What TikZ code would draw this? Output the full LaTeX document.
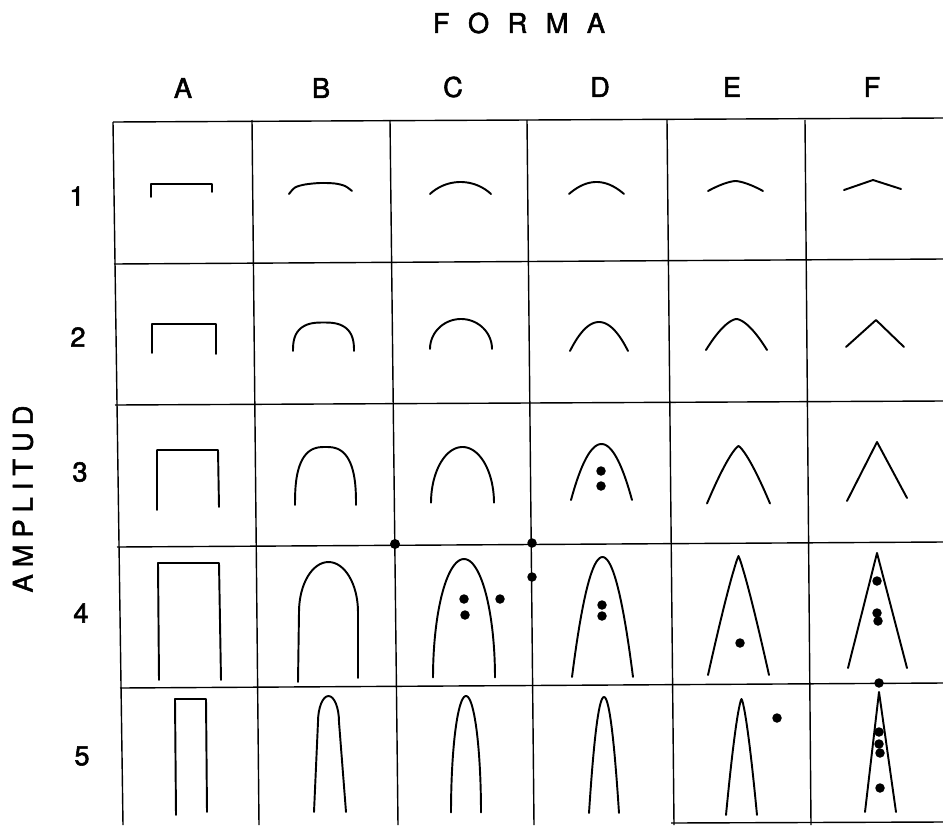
\documentclass[tikz,border=0pt]{standalone}
\usepackage{fontspec}
\setmainfont{TeX Gyre Heros}
\newfontfamily\lblfont{TeX Gyre Heros}[FakeBold=2]
% superellipse arch: centre x, bottom y, half width, height, exponent
\newcommand{\archSE}[5]{\draw[curve] plot[domain=0.3:179.7, samples=60, variable=\t]
  ({#1 + #3*sign(cos(\t))*(abs(cos(\t))+0.00001)^(2/#5)}, {#2 - #4*(sin(\t)+0.00001)^(2/#5)});}
% power arch: centre x, apex y, half width, depth, exponent
\newcommand{\archPW}[5]{\draw[curve] plot[domain=-1:1, samples=41, variable=\t]
  ({#1 + #3*\t}, {#2 + #4*(abs(\t)+0.00001)^#5});}
\begin{document}
\begin{tikzpicture}[x=0.02cm,y=-0.02cm,
  gridline/.style={line width=0.8pt},
  curve/.style={line width=1.1pt, line join=round, line cap=round},
  lbl/.style={font=\lblfont\fontsize{15.5}{18}\selectfont, inner sep=0pt},
  dot/.style={fill=black}]
\useasboundingbox (0,0) rectangle (943,825);
% ---------- labels ----------
\node[lbl] (forma) at (519,23) {F\hspace{10.5pt}O\hspace{10.5pt}R\hspace{10.5pt}M\hspace{10.5pt}A};
\node[lbl] (cA) at (183,88) {A};
\node[lbl] (cB) at (321,88) {B};
\node[lbl] (cC) at (453,87) {C};
\node[lbl] (cD) at (600,87) {D};
\node[lbl] (cE) at (732,87) {E};
\node[lbl] (cF) at (872,87) {F};
\node[lbl] (r1) at (77,196) {1};
\node[lbl] (r2) at (78,337) {2};
\node[lbl] (r3) at (80,472) {3};
\node[lbl] (r4) at (81,613) {4};
\node[lbl] (r5) at (82,756) {5};
\node[lbl, rotate=90] (ampl) at (23,499) {A\hspace{4pt}M\hspace{4pt}P\hspace{4pt}L\hspace{4pt}I\hspace{4pt}T\hspace{4pt}U\hspace{4pt}D};
% ---------- grid ----------
\draw[gridline] (113,122) -- (123,825);
\draw[gridline] (252,120) -- (259,825);
\draw[gridline] (390,120) -- (398,825);
\draw[gridline] (527,120) -- (534,825);
\draw[gridline] (667,120) -- (674,825);
\draw[gridline] (805,120) -- (811,825);
\draw[gridline] (113,122) -- (943,118);
\draw[gridline] (114,264) -- (943,259);
\draw[gridline] (115,405) -- (943,401);
\draw[gridline] (117,547) -- (943,542);
\draw[gridline] (120,688) -- (943,683);
\draw[gridline] (671,823) -- (943,822);
% ---------- column A (brackets) ----------
\draw[curve] (151,197) -- (151,184) -- (212,184) -- (212,192);
\draw[curve] (152,353) -- (152,324) -- (216,324) -- (216,354);
\draw[curve] (157,510) -- (157,450) -- (218,450) -- (219,507);
\draw[curve] (159,680) -- (158,563) -- (219,563) -- (221,680);
\draw[curve] (176,815) -- (175,699) -- (206,699) -- (207,812);
% ---------- column B (flat-topped arches) ----------
\draw[curve] plot[smooth] coordinates {(289,194) (295,187.5) (305,184.5) (320,183) (335,183.5) (345,186) (352,191)};
\archSE{323.5}{351.5}{30.5}{29}{2.7}
\archSE{325.5}{506}{30.5}{59}{2.7}
\draw[curve] (298,682) -- (299,612) arc[start angle=180, end angle=0, x radius=0.59cm, y radius=1.0cm] -- (358,678);
\draw[curve] (314,812) -- (318,722) arc[start angle=180, end angle=0, x radius=0.21cm, y radius=0.52cm] -- (346,812);
% ---------- column C (round arches) ----------
\draw[curve] plot[domain=47:133, samples=30, variable=\t] ({460.5+44.8*cos(\t)}, {226.8-44.8*sin(\t)});
\archSE{461}{349}{31}{30}{2}
\archSE{462.5}{503}{31.5}{56}{2}
\archSE{464}{678}{31}{119}{2}
\archSE{466}{813}{15}{117}{2}
% ---------- column D (parabolic arches) ----------
\archPW{596.5}{182}{27.5}{12}{2}
\archPW{599}{322}{29}{29}{2}
\archPW{601.5}{444}{30.5}{56}{2}
\archPW{602.5}{557}{30.5}{120}{2}
\archPW{604}{697}{15}{116}{2}
% ---------- column E (pointed arches) ----------
\archPW{735.5}{181}{27.5}{10}{1.5}
\archPW{736.5}{319}{30.5}{31}{1.6}
\archPW{738.5}{446}{31.5}{57.5}{1.3}
\archPW{738.5}{556}{30.5}{119}{1.15}
\archPW{741.5}{699}{15.5}{116}{1.4}
% ---------- column F (angles) ----------
\draw[curve] (844,190) -- (873,180) -- (901,189);
\draw[curve] (846,347) -- (876,320) -- (904,347);
\draw[curve] (847,501) -- (877,442) -- (907,498);
\draw[curve] (848,668) -- (877,553) -- (907,668);
\draw[curve] (865,812) -- (879,692) -- (896,812);
% ---------- dots ----------
\fill[dot] (601,471) circle[radius=0.095cm];
\fill[dot] (601,486) circle[radius=0.095cm];
\fill[dot] (464,599) circle[radius=0.095cm];
\fill[dot] (465,615) circle[radius=0.095cm];
\fill[dot] (500,599) circle[radius=0.095cm];
\fill[dot] (602,605) circle[radius=0.095cm];
\fill[dot] (602,616) circle[radius=0.095cm];
\fill[dot] (740,643) circle[radius=0.095cm];
\fill[dot] (877,581) circle[radius=0.095cm];
\fill[dot] (877,613) circle[radius=0.095cm];
\fill[dot] (878,621) circle[radius=0.095cm];
\fill[dot] (777,718) circle[radius=0.095cm];
\fill[dot] (879,732) circle[radius=0.095cm];
\fill[dot] (879,744) circle[radius=0.095cm];
\fill[dot] (880,753) circle[radius=0.095cm];
\fill[dot] (880,788) circle[radius=0.095cm];
% dots on the grid lines
\fill[dot] (395,544) circle[radius=0.1cm];
\fill[dot] (532,543) circle[radius=0.095cm];
\fill[dot] (532,577) circle[radius=0.095cm];
\fill[dot] (879,683) circle[radius=0.095cm];
\end{tikzpicture}
\end{document}
